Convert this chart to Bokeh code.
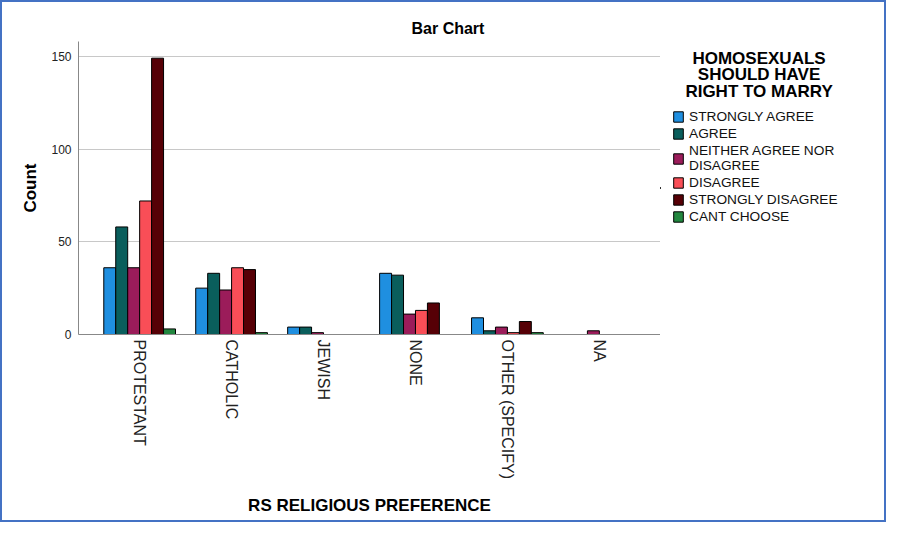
import math
from bokeh.plotting import figure
from bokeh.layouts import row
from bokeh.models import (ColumnDataSource, FactorRange, Range1d, Legend, LegendItem,
                          SingleIntervalTicker, Label)
from bokeh.transform import dodge
from bokeh.embed import file_html
from bokeh.resources import INLINE

categories = ["PROTESTANT", "CATHOLIC", "JEWISH", "NONE", "OTHER (SPECIFY)", "NA"]
responses = ["STRONGLY AGREE", "AGREE", "NEITHER AGREE NOR\nDISAGREE", "DISAGREE",
             "STRONGLY DISAGREE", "CANT CHOOSE"]
legend_title = "HOMOSEXUALS\nSHOULD HAVE\nRIGHT TO MARRY"
strongly_agree = [36, 25, 4, 33, 9, 0]
agree = [58, 33, 4, 32, 2, 0]
neither = [36, 24, 1, 11, 4, 2]
disagree = [72, 36, 0, 13, 1, 0]
strongly_disagree = [149, 35, 0, 17, 7, 0]
cant_choose = [3, 1, 0, 0, 1, 0]
colors = ["#1F8FE0", "#0A5E5C", "#9B1C5A", "#F94E57", "#560006", "#22873F"]

series = [strongly_agree, agree, neither, disagree, strongly_disagree, cant_choose]

FONT = "Liberation Sans"
TOP, BOTTOM = 39, 186

p = figure(width=658, height=518, x_range=FactorRange(factors=categories, range_padding=0.055),
           y_range=Range1d(0, 158), output_backend="svg", toolbar_location=None,
           min_border_left=76, min_border_top=TOP, min_border_bottom=BOTTOM, min_border_right=0)

p.title.text = "Bar Chart"
p.title.text_font = FONT
p.title.text_font_size = "16px"
p.title.text_font_style = "bold"
p.title.text_color = "black"
p.title.align = "left"
p.title.offset = 333

bw = 0.13
for i, (vals, col) in enumerate(zip(series, colors)):
    xs = [c for c, v in zip(categories, vals) if v > 0]
    ys = [v for v in vals if v > 0]
    src = ColumnDataSource(dict(cat=xs, val=ys))
    off = (i - 2.5) * bw
    p.vbar(x=dodge("cat", off, range=p.x_range), top="val", width=bw, source=src,
           fill_color=col, line_color="black", line_width=1)

# axes
p.xaxis.axis_label = "RS RELIGIOUS PREFERENCE"
p.yaxis.axis_label = "Count"
for ax in (p.xaxis[0], p.yaxis[0]):
    ax.axis_label_text_font = FONT
    ax.axis_label_text_font_size = "17px"
    ax.axis_label_text_font_style = "bold"
    ax.axis_label_text_color = "black"
    ax.major_label_text_font = FONT
    ax.axis_line_color = "#888888"
    ax.major_tick_line_color = None
    ax.minor_tick_line_color = None
    ax.major_tick_out = 0
    ax.major_tick_in = 0

p.xaxis.major_label_orientation = -math.pi / 2
p.xaxis.major_label_text_font_size = "16px"
p.xaxis.major_label_text_color = "#222222"
p.xaxis.major_label_standoff = 5
p.xaxis.axis_label_standoff = 14

p.yaxis.ticker = SingleIntervalTicker(interval=50)
p.yaxis.major_label_text_font_size = "12px"
p.yaxis.major_label_text_color = "#222222"
p.yaxis.major_label_standoff = 3
p.yaxis.axis_label_standoff = 8

p.xgrid.grid_line_color = None
p.ygrid.grid_line_color = "#C8C8C8"
p.ygrid.grid_line_width = 1
p.outline_line_color = None
p.background_fill_color = "white"
p.border_fill_color = "white"

# legend panel (its own small figure to the right of the chart)
pl = figure(width=224, height=518, x_range=Range1d(0, 1), y_range=Range1d(1, 2),
            output_backend="svg", toolbar_location=None,
            x_axis_location=None, y_axis_location=None,
            min_border_left=0, min_border_right=0, min_border_top=TOP, min_border_bottom=BOTTOM)
pl.xgrid.grid_line_color = None
pl.ygrid.grid_line_color = None
pl.outline_line_color = None
pl.border_fill_color = "white"

pl.add_layout(Label(x=0.44, y=1.976, text=legend_title, text_align="center",
                    text_baseline="top", text_font=FONT, text_font_size="17px",
                    text_font_style="bold", text_color="black", text_line_height=0.88))

# legend swatch renderers: placed outside the visible range, only their legend glyph shows
items = []
for col, name in zip(colors, responses):
    src = ColumnDataSource(dict(x=[-5], top=[1.5]))
    r = pl.vbar(x="x", top="top", bottom=1.5, width=0.1, source=src,
                fill_color=col, line_color="black")
    items.append(LegendItem(label=name, renderers=[r]))

legend = Legend(items=items, location=(12, 110))
legend.label_text_font = FONT
legend.label_text_font_size = "13.7px"
legend.label_text_color = "#111111"
legend.glyph_width = 12
legend.glyph_height = 13
legend.label_standoff = 5
legend.label_height = 13
legend.spacing = 2
legend.border_line_color = None
legend.background_fill_alpha = 0
legend.margin = 0
legend.padding = 4
pl.add_layout(legend, "center")

layout = row(p, pl, styles={"border": "2px solid #4472C4"})
layout.spacing = 0

open("out.html", "w").write(file_html(layout, INLINE))
